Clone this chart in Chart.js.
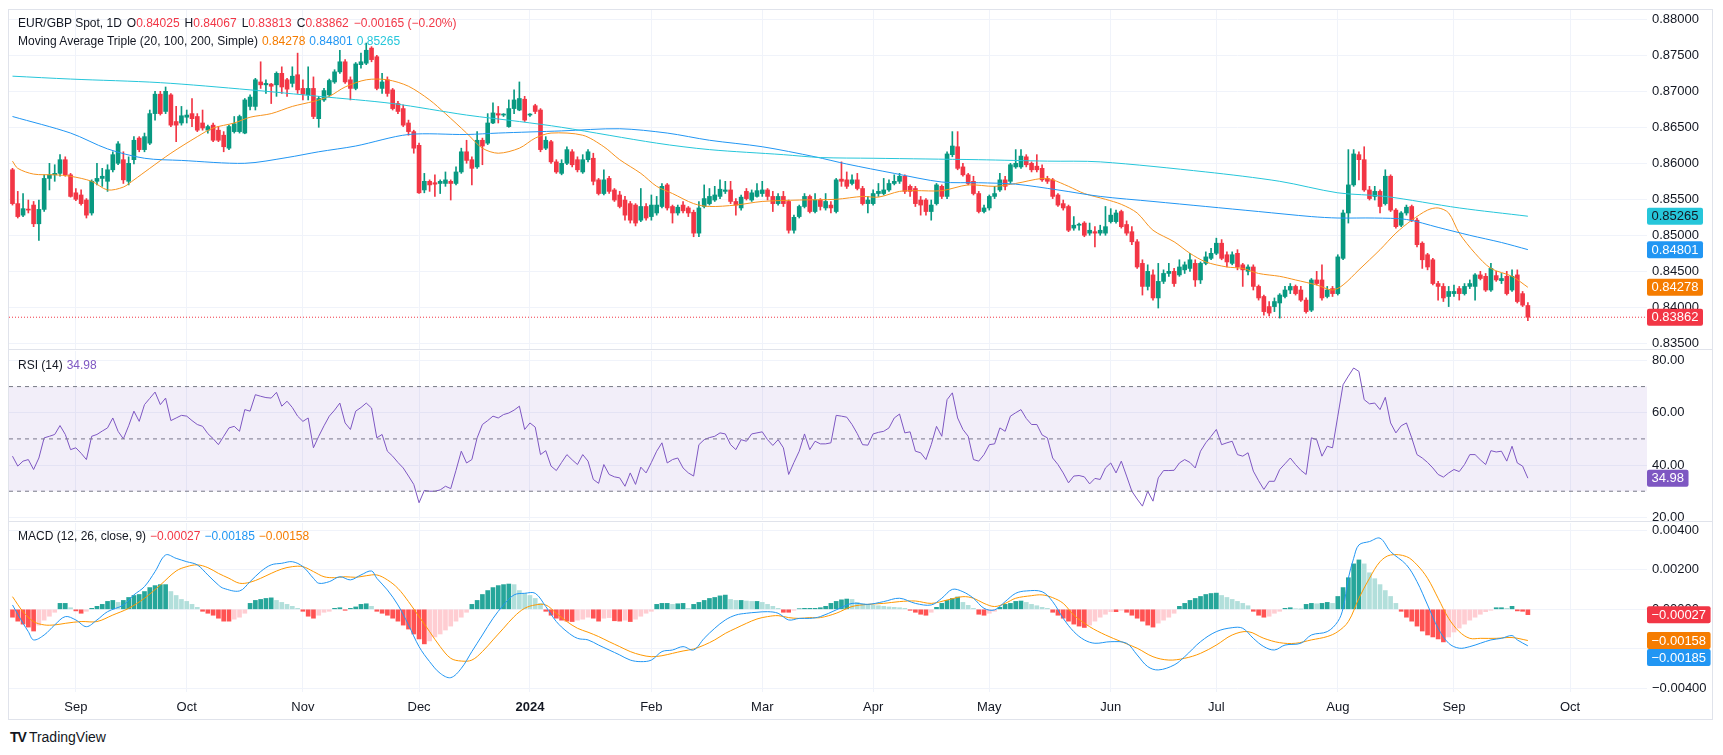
<!DOCTYPE html>
<html>
<head>
<meta charset="utf-8">
<script src="https://cdn.jsdelivr.net/npm/chart.js@4.4.1/dist/chart.umd.min.js"></script>
<style>
  html, body { margin: 0; padding: 0; background: #fff; }
  body { width: 1723px; height: 755px; position: relative; overflow: hidden;
         font-family: "Liberation Sans", Arial, sans-serif; color: #131722; }
  canvas { position: absolute; left: 0; }
  .frame { position: absolute; left: 8px; top: 9px; width: 1705px; height: 711px;
           border: 1px solid #e0e3eb; box-sizing: border-box; pointer-events: none; }
  .sep { position: absolute; left: 8px; width: 1705px; height: 1px; background: #e0e3eb; }
  .legend { position: absolute; left: 18px; font-size: 12px; line-height: 17px; white-space: nowrap; }
  .legend .k { margin-left: 5px; }
  .legend .v { margin-left: 4px; }
  .r { color: #F23645; }
  .logo { position: absolute; left: 10px; top: 729px; font-size: 14px; color: #131722; }
  .logo b { font-weight: 900; letter-spacing: -1px; margin-right: 3px; }
</style>
</head>
<body>
<div class="frame"></div>
<canvas id="pricePane" width="1723" height="350" style="top:0"></canvas>
<canvas id="rsiPane" width="1723" height="171" style="top:350px"></canvas>
<canvas id="macdPane" width="1723" height="200" style="top:522px"></canvas>
<div class="sep" style="top:349px"></div>
<div class="sep" style="top:521px"></div>

<div class="legend" style="top:15px">EUR/GBP Spot, 1D<span class="k">O</span><span class="r">0.84025</span><span class="k">H</span><span class="r">0.84067</span><span class="k">L</span><span class="r">0.83813</span><span class="k">C</span><span class="r">0.83862</span><span class="k r">−0.00165 (−0.20%)</span></div>
<div class="legend" style="top:33px">Moving Average Triple (20, 100, 200, Simple)<span class="v" style="color:#F57C00">0.84278</span><span class="v" style="color:#2196F3">0.84801</span><span class="v" style="color:#26C6DA">0.85265</span></div>
<div class="legend" style="top:357px">RSI (14)<span class="v" style="color:#7E57C2">34.98</span></div>
<div class="legend" style="top:528px">MACD (12, 26, close, 9)<span class="v" style="color:#F23645">−0.00027</span><span class="v" style="color:#2196F3">−0.00185</span><span class="v" style="color:#F57C00">−0.00158</span></div>
<div class="logo"><b>TV</b>TradingView</div>

<script>
// daily EUR/GBP candles, 16 Aug 2023 .. 20 Sep 2024 (one entry per bar)
const opens = [
  0.8591,0.8544,0.8528,0.8536,0.8542,0.8516,0.8536,0.8579,0.8584,0.8586,
  0.8605,0.8584,0.8559,0.8556,0.8549,0.8531,0.8575,0.8579,0.8575,0.8591,
  0.8600,0.8605,0.8575,0.8605,0.8635,0.8619,0.8628,0.8669,0.8696,0.8672,
  0.8695,0.8658,0.8656,0.8664,0.8669,0.8665,0.8656,0.8646,0.8653,0.8646,
  0.8639,0.8621,0.8644,0.8644,0.8642,0.8679,0.8679,0.8713,0.8709,0.8710,
  0.8709,0.8725,0.8716,0.8711,0.8723,0.8704,0.8695,0.8704,0.8662,0.8688,
  0.8695,0.8713,0.8727,0.8741,0.8716,0.8704,0.8737,0.8739,0.8760,0.8748,
  0.8704,0.8716,0.8702,0.8683,0.8676,0.8656,0.8644,0.8625,0.8563,0.8575,
  0.8573,0.8572,0.8572,0.8575,0.8572,0.8588,0.8616,0.8605,0.8595,0.8632,
  0.8628,0.8656,0.8669,0.8667,0.8651,0.8676,0.8674,0.8689,0.8667,0.8680,
  0.8674,0.8621,0.8630,0.8602,0.8586,0.8600,0.8616,0.8605,0.8588,0.8605,
  0.8607,0.8577,0.8558,0.8579,0.8563,0.8556,0.8549,0.8544,0.8542,0.8521,
  0.8540,0.8526,0.8531,0.8540,0.8570,0.8540,0.8531,0.8542,0.8538,0.8532,
  0.8503,0.8540,0.8544,0.8549,0.8554,0.8561,0.8563,0.8547,0.8538,0.8561,
  0.8549,0.8554,0.8558,0.8563,0.8554,0.8544,0.8554,0.8547,0.8507,0.8526,
  0.8540,0.8554,0.8533,0.8549,0.8538,0.8542,0.8533,0.8578,0.8577,0.8572,
  0.8577,0.8565,0.8544,0.8544,0.8558,0.8558,0.8563,0.8572,0.8575,0.8582,
  0.8568,0.8565,0.8549,0.8549,0.8533,0.8544,0.8568,0.8554,0.8612,0.8623,
  0.8595,0.8584,0.8575,0.8558,0.8533,0.8538,0.8554,0.8563,0.8577,0.8575,
  0.8595,0.8595,0.8609,0.8600,0.8596,0.8593,0.8579,0.8577,0.8556,0.8544,
  0.8540,0.8510,0.8514,0.8517,0.8503,0.8505,0.8503,0.8503,0.8519,0.8519,
  0.8533,0.8515,0.8505,0.8491,0.8461,0.8429,0.8445,0.8413,0.8436,0.8447,
  0.8450,0.8445,0.8452,0.8454,0.8461,0.8438,0.8461,0.8468,0.8475,0.8489,
  0.8473,0.8461,0.8475,0.8459,0.8450,0.8456,0.8429,0.8415,0.8401,0.8401,
  0.8406,0.8415,0.8424,0.8429,0.8424,0.8410,0.8396,0.8438,0.8438,0.8415,
  0.8426,0.8419,0.8468,0.8531,0.8570,0.8612,0.8605,0.8563,0.8554,0.8561,
  0.8544,0.8582,0.8535,0.8514,0.8531,0.8540,0.8521,0.8489,0.8473,0.8466,
  0.8433,0.8429,0.8415,0.8419,0.8426,0.8419,0.8429,0.8429,0.8445,0.8443,
  0.8424,0.8444,0.8437,0.8443,0.8424,0.8445,0.8419,0.84025
];
const highs = [
  0.8593,0.8561,0.8558,0.8549,0.8547,0.8549,0.8584,0.8600,0.8598,0.8612,
  0.8609,0.8586,0.8565,0.8563,0.8551,0.8577,0.8600,0.8593,0.8598,0.8616,
  0.8630,0.8616,0.8609,0.8637,0.8637,0.8642,0.8674,0.8700,0.8700,0.8706,
  0.8697,0.8679,0.8679,0.8674,0.8690,0.8669,0.8674,0.8653,0.8656,0.8651,
  0.8644,0.8653,0.8665,0.8667,0.8690,0.8695,0.8718,0.8741,0.8716,0.8711,
  0.8727,0.8734,0.8718,0.8734,0.8753,0.8716,0.8734,0.8720,0.8693,0.8704,
  0.8717,0.8730,0.8757,0.8744,0.8720,0.8740,0.8753,0.8767,0.8762,0.8750,
  0.8725,0.8720,0.8704,0.8686,0.8681,0.8660,0.8646,0.8628,0.8586,0.8577,
  0.8584,0.8577,0.8588,0.8577,0.8595,0.8621,0.8632,0.8609,0.8644,0.8635,
  0.8669,0.8684,0.8679,0.8669,0.8688,0.8702,0.8713,0.8693,0.8669,0.8682,
  0.8676,0.8637,0.8632,0.8605,0.8605,0.8623,0.8619,0.8609,0.8612,0.8619,
  0.8614,0.8579,0.8591,0.8582,0.8565,0.8561,0.8554,0.8547,0.8544,0.8565,
  0.8544,0.8556,0.8554,0.8572,0.8572,0.8542,0.8542,0.8547,0.8540,0.8535,
  0.8547,0.8570,0.8565,0.8568,0.8577,0.8575,0.8575,0.8551,0.8556,0.8565,
  0.8563,0.8572,0.8575,0.8565,0.8561,0.8558,0.8561,0.8549,0.8528,0.8542,
  0.8558,0.8556,0.8558,0.8551,0.8558,0.8547,0.8579,0.8602,0.8588,0.8584,
  0.8586,0.8568,0.8554,0.8563,0.8572,0.8579,0.8577,0.8584,0.8586,0.8584,
  0.8570,0.8568,0.8554,0.8551,0.8549,0.8572,0.8570,0.8616,0.8644,0.8644,
  0.8600,0.8586,0.8582,0.8561,0.8542,0.8556,0.8568,0.8586,0.8582,0.8600,
  0.8619,0.8619,0.8612,0.8602,0.8612,0.8598,0.8582,0.8579,0.8558,0.8549,
  0.8542,0.8526,0.8517,0.8519,0.8517,0.8512,0.8514,0.8540,0.8537,0.8535,
  0.8535,0.8520,0.8512,0.8494,0.8466,0.8459,0.8452,0.8461,0.8452,0.8461,
  0.8454,0.8466,0.8463,0.8475,0.8466,0.8463,0.8477,0.8482,0.8496,0.8494,
  0.8477,0.8477,0.8480,0.8461,0.8459,0.8459,0.8431,0.8417,0.8408,0.8413,
  0.8419,0.8429,0.8433,0.8431,0.8429,0.8413,0.8440,0.8450,0.8459,0.8429,
  0.8429,0.8473,0.8535,0.8619,0.8619,0.8616,0.8623,0.8568,0.8568,0.8563,
  0.8591,0.8584,0.8537,0.8533,0.8542,0.8542,0.8524,0.8491,0.8475,0.8468,
  0.8436,0.8433,0.8429,0.8431,0.8429,0.8433,0.8438,0.8447,0.8450,0.8447,
  0.8461,0.8450,0.8447,0.8450,0.8452,0.8452,0.8422,0.84067
];
const lows = [
  0.8542,0.8524,0.8526,0.8531,0.8512,0.8493,0.8533,0.8563,0.8575,0.8582,
  0.8582,0.8553,0.8548,0.8542,0.8524,0.8528,0.8570,0.8568,0.8561,0.8588,
  0.8598,0.8572,0.8570,0.8599,0.8616,0.8616,0.8626,0.8660,0.8667,0.8669,
  0.8651,0.8630,0.8653,0.8656,0.8651,0.8644,0.8646,0.8642,0.8630,0.8630,
  0.8616,0.8619,0.8642,0.8642,0.8641,0.8674,0.8674,0.8704,0.8697,0.8683,
  0.8693,0.8697,0.8693,0.8706,0.8697,0.8688,0.8688,0.8662,0.8650,0.8686,
  0.8693,0.8711,0.8725,0.8711,0.8688,0.8702,0.8732,0.8737,0.8741,0.8702,
  0.8697,0.8693,0.8674,0.8669,0.8651,0.8639,0.8614,0.8558,0.8559,0.8561,
  0.8554,0.8558,0.8568,0.8549,0.8570,0.8586,0.8600,0.8570,0.8593,0.8598,
  0.8626,0.8655,0.8656,0.8665,0.8650,0.8669,0.8673,0.8658,0.8665,0.8669,
  0.8616,0.8619,0.8600,0.8586,0.8584,0.8598,0.8595,0.8588,0.8586,0.8602,
  0.8570,0.8556,0.8556,0.8558,0.8547,0.8538,0.8521,0.8517,0.8513,0.8519,
  0.8521,0.8521,0.8528,0.8538,0.8535,0.8517,0.8528,0.8531,0.8526,0.8498,
  0.8498,0.8538,0.8542,0.8547,0.8551,0.8558,0.8544,0.8528,0.8535,0.8549,
  0.8547,0.8553,0.8554,0.8549,0.8533,0.8542,0.8540,0.8503,0.8503,0.8524,
  0.8538,0.8531,0.8531,0.8535,0.8535,0.8531,0.8531,0.8568,0.8565,0.8570,
  0.8563,0.8542,0.8531,0.8542,0.8554,0.8556,0.8561,0.8570,0.8572,0.8558,
  0.8554,0.8540,0.8528,0.8528,0.8521,0.8542,0.8551,0.8551,0.8609,0.8591,
  0.8582,0.8570,0.8556,0.8531,0.8531,0.8535,0.8551,0.8561,0.8563,0.8572,
  0.8593,0.8593,0.8595,0.8588,0.8588,0.8575,0.8572,0.8551,0.8540,0.8535,
  0.8505,0.8507,0.8507,0.8498,0.8500,0.8484,0.8500,0.8500,0.8517,0.8517,
  0.8510,0.8500,0.8487,0.8454,0.8417,0.8424,0.8410,0.8399,0.8433,0.8443,
  0.8429,0.8443,0.8447,0.8450,0.8429,0.8433,0.8459,0.8466,0.8473,0.8466,
  0.8456,0.8459,0.8452,0.8429,0.8445,0.8424,0.8410,0.8389,0.8388,0.8394,
  0.8385,0.8413,0.8419,0.8417,0.8408,0.8392,0.8394,0.8431,0.8410,0.8413,
  0.8415,0.8417,0.8466,0.8517,0.8568,0.8577,0.8561,0.8549,0.8549,0.8531,
  0.8542,0.8533,0.8510,0.8512,0.8528,0.8519,0.8484,0.8454,0.8452,0.8431,
  0.8410,0.8408,0.8401,0.8415,0.8410,0.8417,0.8426,0.8410,0.8438,0.8422,
  0.8422,0.8436,0.8433,0.8417,0.8422,0.8406,0.8401,0.83813
];
const closes = [
  0.8544,0.8526,0.8537,0.8535,0.8516,0.8536,0.8579,0.8584,0.8586,0.8605,
  0.8584,0.8554,0.8550,0.8544,0.8528,0.8575,0.8579,0.8582,0.8591,0.8612,
  0.8627,0.8577,0.8600,0.8632,0.8619,0.8637,0.8669,0.8696,0.8669,0.8700,
  0.8653,0.8653,0.8666,0.8667,0.8662,0.8646,0.8649,0.8651,0.8632,0.8632,
  0.8623,0.8651,0.8655,0.8665,0.8688,0.8692,0.8716,0.8709,0.8711,0.8707,
  0.8725,0.8706,0.8703,0.8721,0.8702,0.8696,0.8704,0.8665,0.8690,0.8701,
  0.8715,0.8727,0.8741,0.8713,0.8704,0.8738,0.8741,0.8757,0.8744,0.8704,
  0.8713,0.8697,0.8676,0.8672,0.8653,0.8644,0.8621,0.8559,0.8575,0.8570,
  0.8571,0.8575,0.8577,0.8572,0.8588,0.8616,0.8604,0.8593,0.8632,0.8624,
  0.8656,0.8670,0.8667,0.8668,0.8676,0.8688,0.8690,0.8660,0.8667,0.8672,
  0.8619,0.8632,0.8602,0.8588,0.8600,0.8619,0.8598,0.8591,0.8605,0.8616,
  0.8575,0.8558,0.8577,0.8561,0.8549,0.8540,0.8528,0.8521,0.8517,0.8540,
  0.8524,0.8542,0.8542,0.8568,0.8538,0.8531,0.8539,0.8534,0.8531,0.8503,
  0.8538,0.8551,0.8554,0.8556,0.8564,0.8563,0.8547,0.8542,0.8553,0.8551,
  0.8559,0.8562,0.8563,0.8554,0.8544,0.8554,0.8544,0.8507,0.8525,0.8540,
  0.8554,0.8533,0.8549,0.8540,0.8547,0.8538,0.8577,0.8575,0.8568,0.8577,
  0.8565,0.8544,0.8549,0.8558,0.8561,0.8563,0.8572,0.8575,0.8582,0.8561,
  0.8561,0.8544,0.8542,0.8533,0.8542,0.8570,0.8554,0.8613,0.8624,0.8593,
  0.8584,0.8572,0.8558,0.8533,0.8538,0.8554,0.8558,0.8577,0.8568,0.8598,
  0.8600,0.8610,0.8598,0.8591,0.8591,0.8577,0.8575,0.8554,0.8542,0.8538,
  0.8507,0.8514,0.8514,0.8500,0.8507,0.8503,0.8507,0.8512,0.8528,0.8531,
  0.8512,0.8503,0.8491,0.8456,0.8429,0.8450,0.8413,0.8436,0.8447,0.8450,
  0.8433,0.8456,0.8459,0.8466,0.8438,0.8461,0.8470,0.8475,0.8489,0.8468,
  0.8463,0.8473,0.8456,0.8452,0.8456,0.8429,0.8413,0.8394,0.8392,0.8408,
  0.8417,0.8424,0.8429,0.8419,0.8410,0.8394,0.8438,0.8433,0.8413,0.8424,
  0.8419,0.8470,0.8531,0.8570,0.8613,0.8605,0.8563,0.8551,0.8561,0.8540,
  0.8582,0.8535,0.8512,0.8531,0.8539,0.8521,0.8487,0.8466,0.8456,0.8433,
  0.8429,0.8413,0.8422,0.8422,0.8419,0.8429,0.8433,0.8445,0.8440,0.8424,
  0.8454,0.8438,0.8440,0.8419,0.8443,0.8408,0.8403,0.83862
];

// moving averages, read at points along each line (bar index, value)
const ma20Idx = [0,1,4,8,11,15,18,21,23,26,30,35,38,42,45,49,53,57,60,63,67,71,75,79,82,86,89,92,96,99,102,108,112,115,119,122,125,129,132,137,142,149,156,161,164,168,171,176,181,186,190,195,197,200,203,207,210,213,216,220,223,226,230,233,236,240,243,247,250,252,255,259,262,265,268,270,272,274,277,280,284,287];
const ma20Val = [0.8603,0.8593,0.8585,0.8584,0.8582,0.8575,0.8563,0.8567,0.8577,0.8593,0.8614,0.8637,0.8649,0.8656,0.8664,0.8669,0.8679,0.8686,0.8693,0.8706,0.8716,0.8716,0.8707,0.8688,0.8669,0.8642,0.8621,0.8614,0.8621,0.8635,0.8642,0.8639,0.8623,0.8605,0.8586,0.8568,0.8558,0.8544,0.8540,0.8542,0.8547,0.8549,0.8550,0.8554,0.8553,0.8561,0.8562,0.8562,0.8570,0.8568,0.8572,0.8579,0.8577,0.8568,0.8558,0.8550,0.8543,0.8531,0.8507,0.8491,0.8475,0.8463,0.8456,0.8454,0.8447,0.8443,0.8438,0.8431,0.8424,0.8431,0.8452,0.8480,0.8503,0.8521,0.8535,0.8538,0.8531,0.8503,0.8475,0.8454,0.8443,0.84278];
const ma100Idx = [0,11,18,25,32,44,52,58,65,75,86,92,104,115,124,132,142,152,158,167,176,183,190,198,206,216,226,236,246,251,258,264,270,276,282,287];
const ma100Val = [0.8665,0.8642,0.8620,0.8607,0.8604,0.8600,0.8608,0.8616,0.8624,0.8640,0.8640,0.8642,0.8645,0.8648,0.8642,0.8632,0.8623,0.8609,0.8599,0.8586,0.8574,0.8573,0.8571,0.8563,0.8554,0.8547,0.8540,0.8533,0.8526,0.8524,0.8524,0.8522,0.8511,0.8500,0.8490,0.84801];
const ma200Idx = [0,11,28,45,58,72,86,96,104,122,132,146,153,163,173,183,196,206,226,240,251,260,274,287];
const ma200Val = [0.8721,0.8717,0.8712,0.8702,0.8693,0.8683,0.8667,0.8658,0.8650,0.8628,0.8619,0.8612,0.8608,0.8607,0.8606,0.8605,0.8603,0.8602,0.8588,0.8575,0.8559,0.8554,0.8538,0.85265];

// RSI(14), one value per bar
const rsiVals = [
  43.4,39.6,41.5,42.1,38.3,42.7,50.4,51.0,51.7,55.1,
  51.7,45.9,46.6,44.5,42.1,51.0,51.7,53.0,54.2,58.0,
  52.9,50.0,55.0,60.6,56.7,63.1,65.5,67.9,63.1,65.6,
  57.0,58.0,59.0,58.7,57.0,55.5,54.8,52.0,50.1,47.8,
  51.0,54.2,54.8,52.9,61.2,60.6,66.9,66.3,65.8,65.6,
  67.8,62.5,64.4,62.0,58.7,56.7,58.0,46.6,51.0,55.0,
  58.7,61.0,63.7,56.1,53.6,60.6,62.0,63.7,61.8,50.4,
  51.7,45.3,43.4,41.0,38.9,35.8,32.6,25.6,30.3,30.0,
  30.0,30.5,31.9,31.0,38.0,45.3,40.8,42.1,50.4,55.5,
  57.0,58.7,58.0,59.3,59.9,61.0,62.5,53.6,56.1,54.5,
  44.0,45.5,39.6,37.9,41.0,44.0,42.0,40.2,44.0,41.5,
  34.5,33.0,40.2,36.4,35.5,35.1,31.9,37.0,32.6,39.2,
  37.0,41.0,45.3,48.5,40.8,42.1,42.7,38.9,37.0,35.8,
  47.8,49.7,50.5,51.0,52.3,51.9,47.8,45.9,49.7,49.1,
  51.9,52.3,52.7,49.7,47.5,49.7,46.6,36.4,41.0,45.3,
  51.9,45.9,49.1,48.1,48.1,48.5,59.0,58.7,58.3,55.5,
  52.0,47.8,47.6,51.9,52.5,52.9,54.2,58.0,59.5,52.3,
  52.7,45.3,44.7,42.1,47.8,54.8,51.0,65.0,67.6,58.0,
  53.6,51.0,42.1,41.5,44.0,47.8,48.1,54.2,52.9,58.7,
  60.0,61.2,57.8,55.5,55.5,51.5,50.4,42.7,40.2,37.0,
  33.2,35.8,36.0,35.5,32.8,34.9,34.5,38.9,40.8,37.0,
  41.5,35.8,30.0,27.0,24.3,30.0,26.2,35.1,37.9,37.9,
  38.0,40.8,42.1,41.0,38.9,45.3,48.5,51.0,53.6,47.8,
  48.5,49.1,44.0,43.4,44.7,37.7,34.0,30.7,33.8,33.8,
  38.3,40.5,42.7,40.2,38.0,36.4,50.4,49.7,43.4,47.2,
  46.6,58.7,70.7,74.0,77.1,75.8,65.0,63.4,63.7,61.2,
  65.9,56.1,52.3,55.0,56.1,50.4,44.0,42.7,41.0,38.9,
  36.4,35.4,37.0,38.3,37.5,40.2,44.0,44.0,42.0,40.2,
  45.5,45.0,45.3,41.5,47.2,40.8,39.6,34.98
];

// MACD(12, 26, 9): lines read at points, histogram one value per bar
const macdIdx = [0,2,3,4,6,8,10,12,14,16,18,21,23,25,27,29,31,33,35,37,39,40,43,45,47,49,51,53,55,57,58,60,62,64,66,68,69,71,73,75,77,79,81,83,85,87,89,91,93,95,97,99,101,103,105,107,109,111,113,115,117,119,121,123,125,127,129,131,133,135,137,139,141,143,145,147,149,151,153,156,159,162,165,168,171,174,176,178,180,182,184,186,188,190,192,195,197,199,201,203,205,208,211,213,215,217,220,222,225,228,231,233,235,237,239,241,244,246,249,251,252,253,254,255,257,259,261,264,266,268,270,272,274,276,278,280,282,284,285,287];
const macdVal = [0.00022,-0.00071,-0.00113,-0.00155,-0.00130,-0.00079,-0.00037,-0.00054,-0.00088,-0.00054,-0.00012,0.00022,0.00073,0.00115,0.00191,0.00275,0.00258,0.00241,0.00225,0.00174,0.00123,0.00106,0.00093,0.00140,0.00191,0.00225,0.00233,0.00241,0.00216,0.00157,0.00132,0.00140,0.00165,0.00149,0.00174,0.00194,0.00157,0.00098,0.00022,-0.00079,-0.00189,-0.00265,-0.00324,-0.00346,-0.00299,-0.00214,-0.00130,-0.00046,0.00022,0.00073,0.00081,0.00081,0.00014,-0.00062,-0.00113,-0.00147,-0.00155,-0.00181,-0.00206,-0.00231,-0.00257,-0.00265,-0.00257,-0.00214,-0.00206,-0.00189,-0.00206,-0.00147,-0.00096,-0.00054,-0.00029,-0.00020,-0.00015,-0.00012,-0.00020,-0.00054,-0.00046,-0.00046,-0.00037,-0.00003,0.00030,0.00025,0.00039,0.00056,0.00030,0.00022,0.00056,0.00101,0.00089,0.00056,0.00005,-0.00003,0.00039,0.00081,0.00093,0.00089,0.00039,-0.00046,-0.00113,-0.00155,-0.00172,-0.00164,-0.00172,-0.00231,-0.00290,-0.00307,-0.00282,-0.00240,-0.00164,-0.00113,-0.00093,-0.00096,-0.00147,-0.00189,-0.00206,-0.00181,-0.00172,-0.00130,-0.00113,-0.00062,0.00005,0.00157,0.00258,0.00326,0.00343,0.00360,0.00292,0.00225,0.00140,0.00022,-0.00096,-0.00172,-0.00197,-0.00189,-0.00172,-0.00155,-0.00147,-0.00133,-0.00155,-0.00185];
const signalIdx = [0,2,4,6,8,10,13,16,19,22,25,28,31,33,35,37,39,41,43,45,47,49,51,53,55,57,59,61,63,65,67,69,71,73,75,77,79,81,83,85,87,89,91,93,95,97,99,101,103,105,107,109,111,113,115,117,119,121,123,125,127,129,131,133,135,137,139,141,143,145,147,149,151,153,156,159,162,165,168,171,174,177,180,182,184,186,188,190,193,195,197,199,201,204,207,210,213,216,219,222,225,228,231,234,237,240,243,246,249,251,253,255,257,259,261,264,266,268,270,272,274,276,278,281,284,287];
const signalVal = [0.00064,-0.00012,-0.00062,-0.00079,-0.00079,-0.00071,-0.00062,-0.00062,-0.00029,0.00005,0.00056,0.00123,0.00194,0.00216,0.00225,0.00211,0.00182,0.00157,0.00132,0.00137,0.00157,0.00182,0.00204,0.00216,0.00216,0.00191,0.00165,0.00160,0.00165,0.00162,0.00170,0.00174,0.00149,0.00106,0.00039,-0.00037,-0.00113,-0.00189,-0.00248,-0.00262,-0.00257,-0.00214,-0.00155,-0.00096,-0.00037,0.00005,0.00022,0.00022,-0.00020,-0.00062,-0.00096,-0.00116,-0.00138,-0.00164,-0.00189,-0.00214,-0.00231,-0.00240,-0.00235,-0.00223,-0.00211,-0.00201,-0.00181,-0.00155,-0.00122,-0.00096,-0.00071,-0.00049,-0.00037,-0.00032,-0.00042,-0.00046,-0.00042,-0.00042,-0.00020,0.00014,0.00025,0.00030,0.00039,0.00042,0.00030,0.00047,0.00064,0.00056,0.00030,0.00014,0.00030,0.00056,0.00069,0.00073,0.00059,0.00030,-0.00029,-0.00088,-0.00130,-0.00164,-0.00197,-0.00240,-0.00257,-0.00248,-0.00223,-0.00181,-0.00130,-0.00113,-0.00147,-0.00169,-0.00172,-0.00155,-0.00138,-0.00113,-0.00062,0.00056,0.00157,0.00241,0.00275,0.00267,0.00225,0.00157,0.00056,-0.00046,-0.00113,-0.00147,-0.00147,-0.00147,-0.00143,-0.00158];
const histVals = [
  -0.0004,-0.0006,-0.00075,-0.0009,-0.0011,-0.0008,-0.00055,-0.00035,-0.00015,0.0003,
  0.0003,0.00008,-0.00008,-0.0002,-0.0001,0.00005,0.00015,0.00025,0.0004,0.00045,
  0.00035,0.00045,0.0006,0.0007,0.00075,0.0009,0.0011,0.0012,0.00125,0.00125,
  0.0009,0.0007,0.0005,0.0004,0.00025,0.0001,-0.0001,-0.0002,-0.0003,-0.00045,
  -0.0006,-0.0006,-0.0005,-0.0004,-0.0002,0.0003,0.00045,0.0005,0.00055,0.00058,
  0.00045,0.00035,0.00025,0.00015,0.00005,-0.0001,-0.00035,-0.00045,-0.0003,-0.00015,
  -0.0001,0.00005,0.00008,-0.00005,0.00005,0.00012,0.00025,0.00028,0.00015,-0.0001,
  -0.0002,-0.0003,-0.00045,-0.0006,-0.0008,-0.001,-0.00125,-0.0015,-0.00175,-0.0016,
  -0.0014,-0.00125,-0.00105,-0.00085,-0.0006,-0.0004,-0.00015,0.00025,0.00045,0.00075,
  0.00095,0.0011,0.0012,0.00125,0.00128,0.00125,0.00095,0.0008,0.0007,0.00055,
  0.0003,-0.0001,-0.0003,-0.00045,-0.00055,-0.0006,-0.00062,-0.00055,-0.0005,-0.0004,
  -0.00045,-0.0006,-0.00045,-0.00042,-0.00058,-0.0006,-0.00055,-0.00062,-0.0005,-0.00035,
  -0.0002,-0.0001,0.00025,0.0003,0.0003,0.00025,0.00028,0.0003,0.00005,0.00025,
  0.00035,0.00045,0.00055,0.0006,0.00068,0.00072,0.0005,0.00045,0.00045,0.00042,
  0.0004,0.0004,0.00035,0.00025,0.00015,0.00005,-0.00015,-0.00015,-0.00005,0.00003,
  0.00005,0.00005,0.00005,0.00008,0.00015,0.0003,0.0004,0.00048,0.00052,0.0005,
  0.00035,0.00028,0.00022,0.0002,0.00018,0.00015,0.00012,0.0001,0.00008,0.00005,
  -0.00005,-0.00015,-0.00025,-0.0003,-0.00015,0.0001,0.0003,0.00045,0.00055,0.00062,
  0.00035,0.0002,0.00005,-0.00025,-0.0003,-0.0002,-0.0001,0.0001,0.00025,0.0003,
  0.0004,0.00042,0.00035,0.00025,0.00018,0.0001,0.00005,-0.00015,-0.0003,-0.00045,
  -0.0006,-0.00075,-0.00085,-0.00092,-0.0008,-0.0006,-0.0004,-0.00025,-0.00012,-0.00012,
  -0.00005,-0.00015,-0.0003,-0.00045,-0.0006,-0.0008,-0.0009,-0.0007,-0.00055,-0.0004,
  -0.0002,0.00015,0.0003,0.00045,0.00055,0.00065,0.00075,0.0008,0.00082,0.0007,
  0.0006,0.0005,0.0004,0.0003,0.00018,-0.0001,-0.0003,-0.0004,-0.00035,-0.0002,
  -0.0001,0.00005,0.00008,0.00003,0.00001,0.00025,0.0003,0.00028,0.0003,0.00035,
  0.0003,0.00065,0.0011,0.0016,0.0023,0.0025,0.0023,0.00185,0.00155,0.00125,
  0.00095,0.00065,0.0003,-0.0001,-0.0004,-0.0006,-0.00085,-0.0011,-0.0013,-0.0014,
  -0.0015,-0.00165,-0.0014,-0.00115,-0.00095,-0.00075,-0.00055,-0.0004,-0.00025,-0.00012,
  -0.00005,0.00008,0.00008,0.00005,0.00015,-0.00008,-0.0001,-0.00027
];

// time axis: bar index of the first bar of each month
const monthIdx = [12, 33, 55, 77, 98, 121, 142, 163, 185, 208, 228, 251, 273, 295];
const monthLabels = ['Sep', 'Oct', 'Nov', 'Dec', '2024', 'Feb', 'Mar', 'Apr', 'May', 'Jun', 'Jul', 'Aug', 'Sep', 'Oct'];

const priceTicks = [0.835, 0.84, 0.845, 0.85, 0.855, 0.86, 0.865, 0.87, 0.875, 0.88];
const rsiTicks = [20, 40, 60, 80];
const macdTicks = [-0.004, -0.002, 0, 0.002, 0.004];
const lastClose = 0.83862;

const FONT = '"Liberation Sans", Arial, sans-serif';
const UP = '#089981', DOWN = '#F23645';
const GRID = '#f0f3fa';
const X_MIN = -0.66, X_MAX = 309.56;

const pts = (xs, ys) => xs.map((x, k) => ({ x: x, y: ys[k] }));
const fmtMinus = s => s.replace('-', '\u2212');

function xAxis(withLabels) {
  return {
    type: 'linear', min: X_MIN, max: X_MAX, offset: false,
    afterBuildTicks: s => { s.ticks = monthIdx.map(v => ({ value: v })); },
    ticks: {
      display: withLabels, autoSkip: false, maxRotation: 0, padding: 8, color: '#131722',
      font: c => ({ family: FONT, size: 13, weight: monthLabels[c.index] === '2024' ? 'bold' : 'normal' }),
      callback: (v, i) => monthLabels[i]
    },
    grid: { color: GRID, drawTicks: false, offset: false },
    border: { display: false },
    afterFit: s => { s.height = withLabels ? 30 : 0; s.paddingLeft = 0; s.paddingRight = 0; }
  };
}

function yAxis(min, max, ticks, fmt) {
  return {
    position: 'right', min: min, max: max,
    afterBuildTicks: s => { s.ticks = ticks.map(v => ({ value: v })); },
    ticks: { padding: 5, color: '#131722', font: { family: FONT, size: 13 }, callback: v => fmt(v) },
    grid: { color: GRID, drawTicks: false },
    border: { display: false },
    afterFit: s => { s.width = 76; s.paddingTop = 0; s.paddingBottom = 0; }
  };
}

// price / indicator value tags on the right axis
const badgePlugin = {
  id: 'badges',
  afterDraw(chart, args, opts) {
    if (!opts.items) return;
    const { ctx, chartArea } = chart;
    const y = chart.scales.y;
    const h = 17;
    const tags = opts.items.map(t => Object.assign({}, t, { py: y.getPixelForValue(t.value) }))
      .sort((a, b) => a.py - b.py);
    for (let k = 1; k < tags.length; k++) {
      if (tags[k].py - tags[k - 1].py < h) tags[k].py = tags[k - 1].py + h;
    }
    ctx.save();
    ctx.font = '13px ' + FONT;
    ctx.textBaseline = 'middle';
    tags.forEach(t => {
      const w = ctx.measureText(t.text).width + 9;
      ctx.fillStyle = t.bg;
      ctx.beginPath();
      ctx.roundRect(chartArea.right, t.py - h / 2, w, h, 2);
      ctx.fill();
      ctx.fillStyle = t.fg;
      ctx.fillText(t.text, chartArea.right + 4.5, t.py + 0.5);
    });
    ctx.restore();
  }
};

const baseOpts = pad => ({
  responsive: false, animation: false, events: [],
  layout: { padding: pad },
  plugins: { legend: { display: false }, tooltip: { enabled: false } }
});

const idx = closes.map((c, i) => i);
const candleColors = idx.map(i => closes[i] >= opens[i] ? UP : DOWN);

new Chart(document.getElementById('pricePane'), {
  type: 'bar',
  data: {
    datasets: [
      { type: 'line', data: pts(ma200Idx, ma200Val), borderColor: '#26C6DA', borderWidth: 1, pointRadius: 0, tension: 0.3, order: 0 },
      { type: 'line', data: pts(ma100Idx, ma100Val), borderColor: '#2196F3', borderWidth: 1, pointRadius: 0, tension: 0.3, order: 0 },
      { type: 'line', data: pts(ma20Idx, ma20Val), borderColor: '#F7931E', borderWidth: 1, pointRadius: 0, tension: 0.3, order: 0 },
      { type: 'line', data: [{ x: X_MIN, y: lastClose }, { x: X_MAX, y: lastClose }], borderColor: DOWN,
        borderWidth: 1, borderDash: [1, 2], pointRadius: 0, order: 0 },
      { data: idx.map(i => ({ x: i, y: [lows[i], highs[i]] })), backgroundColor: candleColors,
        barThickness: 1, grouped: false, order: 2 },
      { data: idx.map(i => ({ x: i, y: [opens[i], closes[i]] })), backgroundColor: candleColors,
        barThickness: 4, minBarLength: 1, grouped: false, order: 1 }
    ]
  },
  options: Object.assign(baseOpts({ left: 9, right: 0, top: 10, bottom: 1 }), {
    scales: { x: xAxis(false), y: yAxis(0.834208, 0.881292, priceTicks, v => v.toFixed(5)) },
    plugins: { legend: { display: false }, tooltip: { enabled: false },
      badges: { items: [
        { value: 0.85265, text: '0.85265', bg: '#26C6DA', fg: '#131722' },
        { value: 0.84801, text: '0.84801', bg: '#2196F3', fg: '#ffffff' },
        { value: 0.84278, text: '0.84278', bg: '#F57C00', fg: '#ffffff' },
        { value: lastClose, text: '0.83862', bg: DOWN, fg: '#ffffff' }
      ] } }
  }),
  plugins: [badgePlugin]
});

new Chart(document.getElementById('rsiPane'), {
  type: 'line',
  data: {
    datasets: [
      { data: [{ x: X_MIN, y: 70 }, { x: X_MAX, y: 70 }], fill: { value: 30 }, backgroundColor: 'rgba(126,87,194,0.1)',
        borderColor: '#787B86', borderWidth: 1, borderDash: [4, 4], pointRadius: 0 },
      { data: [{ x: X_MIN, y: 50 }, { x: X_MAX, y: 50 }], borderColor: '#787B86', borderWidth: 1, borderDash: [4, 4], pointRadius: 0 },
      { data: [{ x: X_MIN, y: 30 }, { x: X_MAX, y: 30 }], borderColor: '#787B86', borderWidth: 1, borderDash: [4, 4], pointRadius: 0 },
      { data: rsiVals.map((v, i) => ({ x: i, y: v })), borderColor: '#7E57C2', borderWidth: 1, pointRadius: 0 }
    ]
  },
  options: Object.assign(baseOpts({ left: 9, right: 0, top: 1, bottom: 1 }), {
    scales: { x: xAxis(false), y: yAxis(19.0, 83.6, rsiTicks, v => v.toFixed(2)) },
    plugins: { legend: { display: false }, tooltip: { enabled: false },
      badges: { items: [{ value: 34.98, text: '34.98', bg: '#7E57C2', fg: '#ffffff' }] } }
  }),
  plugins: [badgePlugin]
});

const histColors = histVals.map((v, i) => {
  const prev = i > 0 ? histVals[i - 1] : v;
  if (v >= 0) return v >= prev ? '#26A69A' : '#B2DFDB';
  return v <= prev ? '#FF5252' : '#FFCDD2';
});

new Chart(document.getElementById('macdPane'), {
  type: 'bar',
  data: {
    datasets: [
      { type: 'line', data: pts(macdIdx, macdVal), borderColor: '#2196F3', borderWidth: 1, pointRadius: 0, tension: 0.35, order: 0 },
      { type: 'line', data: pts(signalIdx, signalVal), borderColor: '#FF9800', borderWidth: 1, pointRadius: 0, tension: 0.35, order: 0 },
      { data: histVals.map((v, i) => ({ x: i, y: v })), backgroundColor: histColors, barThickness: 4, order: 1 }
    ]
  },
  options: Object.assign(baseOpts({ left: 9, right: 0, top: 1, bottom: 0 }), {
    scales: { x: xAxis(true), y: yAxis(-0.004187, 0.00437, macdTicks, v => fmtMinus(v.toFixed(5))) },
    plugins: { legend: { display: false }, tooltip: { enabled: false },
      badges: { items: [
        { value: -0.00027, text: '\u22120.00027', bg: '#F23645', fg: '#ffffff' },
        { value: -0.00158, text: '\u22120.00158', bg: '#F57C00', fg: '#ffffff' },
        { value: -0.00185, text: '\u22120.00185', bg: '#2196F3', fg: '#ffffff' }
      ] } }
  }),
  plugins: [badgePlugin]
});
</script>
</body>
</html>
